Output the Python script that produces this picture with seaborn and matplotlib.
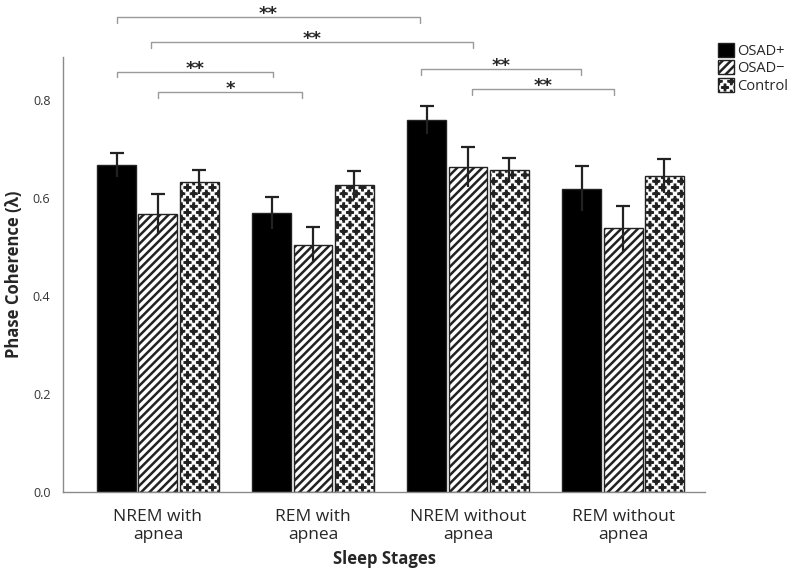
import numpy as np
import pandas as pd
import seaborn as sns
import matplotlib
matplotlib.use("Agg")
import matplotlib.pyplot as plt
from matplotlib import hatch as mhatch
from matplotlib.path import Path
from matplotlib.patches import Patch

# ---------------- data ---------------- #
stages = ["NREM with\napnea", "REM with\napnea", "NREM without\napnea", "REM without\napnea"]
groups = ["OSAD+", "OSAD\u2212", "Control"]
osad_pos = [0.667, 0.570, 0.759, 0.619]
osad_neg = [0.567, 0.505, 0.663, 0.538]
control = [0.633, 0.626, 0.658, 0.645]
osad_pos_err = [0.025, 0.033, 0.029, 0.046]
osad_neg_err = [0.041, 0.037, 0.041, 0.046]
control_err = [0.024, 0.029, 0.023, 0.035]

# significance brackets: (x_start, x_end, y, label)
brackets = [
    (-0.265, 1.690, 0.969, "**"),
    (-0.045, 2.032, 0.918, "**"),
    (-0.265, 0.742, 0.857, "**"),
    (0.000, 0.929, 0.816, "*"),
    (1.697, 2.729, 0.863, "**"),
    (2.026, 2.942, 0.822, "**"),
]


# ---------------- plus-sign hatch (takes over the 'o' hatch) ---------------- #
class PlusHatch(mhatch.HatchPatternBase):
    filled = True
    size = 0.45

    def __init__(self, hatch, density):
        n = hatch.count("o") * 4
        self.n = n
        t = 0.02
        verts = [(-t, -0.5), (t, -0.5), (t, -t), (0.5, -t), (0.5, t), (t, t),
                 (t, 0.5), (-t, 0.5), (-t, t), (-0.5, t), (-0.5, -t), (-t, -t),
                 (-t, -0.5)]
        path = Path(verts, closed=True)
        self.shape_vertices = path.vertices
        self.shape_codes = path.codes
        if n == 0:
            self.num_vertices = 0
        else:
            shapes = (n + 1) ** 2 + n ** 2
            self.num_vertices = shapes * len(self.shape_vertices)

    def set_vertices_and_codes(self, vertices, codes):
        n = self.n
        step = 1.0 / n
        shape = self.shape_vertices * step * self.size
        vparts, cparts = [], []
        for row in range(2 * n + 1):
            if row % 2 == 0:
                cols = np.linspace(0, 1, n + 1)
            else:
                cols = np.linspace(step / 2, 1 - step / 2, n)
            for c in cols:
                vparts.append(shape + [c, row * step / 2])
                cparts.append(self.shape_codes)
        np.concatenate(vparts, out=vertices)
        np.concatenate(cparts, out=codes)


mhatch._hatch_types[:] = [PlusHatch if h is mhatch.SmallCircles else h
                          for h in mhatch._hatch_types]

# ---------------- plot ---------------- #
sns.set_style("white")
plt.rcParams["font.family"] = ["Open Sans", "DejaVu Sans"]
plt.rcParams["hatch.linewidth"] = 1.8

df = pd.DataFrame({
    "stage": stages * 3,
    "group": [g for g in groups for _ in stages],
    "value": osad_pos + osad_neg + control,
})
errs = [osad_pos_err, osad_neg_err, control_err]

fig = plt.figure(figsize=(7.96, 5.69), dpi=100)
ax = fig.add_axes([0.079, 0.135, 0.807, 0.765])

sns.barplot(data=df, x="stage", y="value", hue="group", order=stages,
            hue_order=groups, palette=["black", "white", "white"],
            width=0.8, gap=0.06, edgecolor="#222222", linewidth=1.0,
            errorbar=None, legend=False, ax=ax)

hatches = [None, "////", "oo"]
for cont, h, err in zip(ax.containers, hatches, errs):
    xs, ys = [], []
    for bar in cont:
        if h:
            bar.set_hatch(h)
        xs.append(bar.get_x() + bar.get_width() / 2)
        ys.append(bar.get_height())
    eb = ax.errorbar(xs, ys, yerr=err, fmt="none", ecolor="#222222",
                     elinewidth=1.6, capsize=5, capthick=1.6, zorder=5)
    eb[1][0].set_visible(False)

for x0, x1, y, lab in brackets:
    ax.plot([x0, x0, x1, x1], [y - 0.011, y, y, y - 0.011], color="#9a9a9a",
            lw=1.0, clip_on=False)
    ax.text((x0 + x1) / 2, y - 0.004, lab, ha="center", va="baseline",
            fontsize=13, fontweight="bold", family="DejaVu Sans", clip_on=False)

ax.set_xlim(-0.613, 3.53)
ax.set_ylim(0, 0.888)
ax.set_yticks([0.0, 0.2, 0.4, 0.6, 0.8])
ax.set_yticklabels(["0.0", "0.2", "0.4", "0.6", "0.8"])
ax.tick_params(axis="y", length=0, pad=9, labelsize=9, labelcolor="#333333")
ax.tick_params(axis="x", length=0, pad=12, labelsize=12.5)
ax.set_xlabel("Sleep Stages", fontsize=12, fontweight="bold", labelpad=5)
ax.set_ylabel("Phase Coherence (\u03bb)", fontsize=12, fontweight="bold", labelpad=7)

sns.despine(ax=ax)
for s in ["left", "bottom"]:
    ax.spines[s].set_color("#8a8a8a")
    ax.spines[s].set_linewidth(1.0)

handles = [Patch(facecolor="black", edgecolor="#222222"),
           Patch(facecolor="white", edgecolor="#222222", hatch="////"),
           Patch(facecolor="white", edgecolor="#222222", hatch="oo")]
fig.legend(handles, groups, loc="upper left", bbox_to_anchor=(0.895, 0.935),
           frameon=False, fontsize=10.5, handlelength=1.1, handleheight=1.1,
           handletextpad=0.2, labelspacing=0.1, borderaxespad=0)

fig.savefig("out.png", dpi=100)
